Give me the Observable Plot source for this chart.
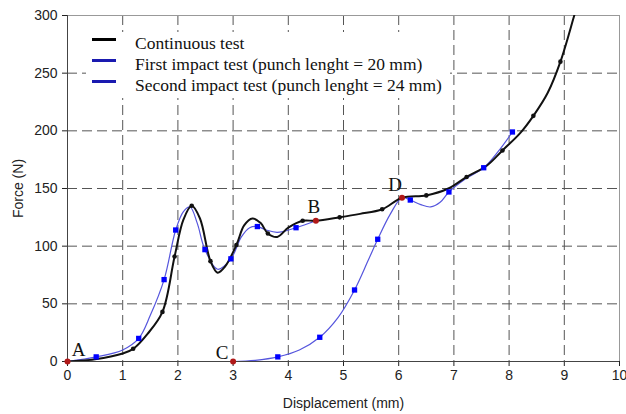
<!DOCTYPE html>
<html>
<head>
<meta charset="utf-8">
<script src="https://cdn.jsdelivr.net/npm/d3@7"></script>
<script src="https://cdn.jsdelivr.net/npm/@observablehq/plot@0.6"></script>
<style>
  html, body { margin: 0; padding: 0; background: #fff; }
  #wrap { position: relative; width: 626px; height: 414px; }
  #legend { position: absolute; left: 86px; top: 32px; background: #fff; padding: 1px 8px 2px 6px;
            font-family: "Liberation Serif", "DejaVu Serif", serif; font-size: 17.5px; color: #111; line-height: 21px; }
  #legend .row { display: flex; align-items: center; white-space: nowrap; }
  #legend .sw { display: inline-block; width: 24px; height: 3px; margin-right: 19px; position: relative; top: -4px; }
</style>
</head>
<body>
<div id="wrap"><div id="chart"></div>
<div id="legend">
  <div class="row"><span class="sw" style="background:#000"></span>Continuous test</div>
  <div class="row"><span class="sw" style="background:#1a1ab0"></span>First impact test (punch lenght = 20 mm)</div>
  <div class="row"><span class="sw" style="background:#1a1ab0"></span>Second impact test (punch lenght = 24 mm)</div>
</div>
</div>
<script>
// Continuous test (curve)
const contX = [0,0.5,1.0,1.19,1.45,1.72,1.94,2.1,2.25,2.4,2.59,2.72,2.85,3.06,3.2,3.35,3.5,3.63,3.8,4.0,4.26,4.5,4.93,5.3,5.7,6.06,6.5,6.9,7.23,7.6,7.88,8.2,8.44,8.7,8.93,9.18,9.3];
const contY = [0,2,7,11,24,43,91,123,135,124,87,77,82,101,118,124,120,111,108,116,122,122,125,128,132,142,144,150,160,170,183,198,213,233,260,300,320];
// Continuous test markers
const contMX = [1.19,1.72,1.94,2.25,2.59,3.06,3.63,4.26,4.93,5.70,6.50,7.23,7.88,8.44,8.93];
const contMY = [11,43,91,135,87,101,111,122,125,132,144,160,183,213,260];
// First impact test (curve)
const firstX = [0,0.52,1.0,1.29,1.5,1.75,1.96,2.1,2.22,2.35,2.49,2.72,2.96,3.15,3.3,3.44,3.6,3.8,4.14,4.5];
const firstY = [0,4,10,20,40,71,114,130,134,120,97,80,89,108,116,117,114,112,116,122];
const firstMX = [0.52,1.29,1.75,1.96,2.49,2.96,3.44,4.14];
const firstMY = [4,20,71,114,97,89,117,116];
// Second impact test (curve)
const secondX = [0,3.0,3.4,3.81,4.2,4.57,4.9,5.2,5.45,5.62,5.85,6.06,6.21,6.4,6.58,6.75,6.91,7.2,7.54,7.8,8.06];
const secondY = [0,0,1,4,10,21,38,62,88,106,128,142,140,136,134,138,147,158,168,182,199];
const secondMX = [3.81,4.57,5.2,5.62,6.21,6.91,7.54,8.06];
const secondMY = [4,21,62,106,140,147,168,199];
// Labelled points
const ptName = ["A","B","C","D"];
const ptX = [0,4.5,3.0,6.06];
const ptY = [0,122,0,142];
// Ticks
const xTicks = [0,1,2,3,4,5,6,7,8,9,10];
const yTicks = [0,50,100,150,200,250,300];

const toRows = (xs, ys) => xs.map((x, i) => ({x, y: ys[i]}));
const cont = toRows(contX, contY), contM = toRows(contMX, contMY);
const first = toRows(firstX, firstY), firstM = toRows(firstMX, firstMY);
const second = toRows(secondX, secondY), secondM = toRows(secondMX, secondMY);
const pts = ptName.map((n, i) => ({n, x: ptX[i], y: ptY[i]}));
const labelOffsets = {A: [11, -12], B: [-2, -14], C: [-11, -9], D: [-7, -13]};

const chart = Plot.plot({
  width: 626, height: 414,
  marginLeft: 67, marginRight: 7, marginTop: 15, marginBottom: 53,
  style: {fontFamily: "'Liberation Sans', Arial, sans-serif", fontSize: "14px", color: "#222", background: "#fff"},
  x: {domain: [0, 10]},
  y: {domain: [0, 300]},
  marks: [
    Plot.gridX(xTicks.slice(1, -1), {stroke: "#555", strokeOpacity: 1, strokeDasharray: "10,5", strokeWidth: 1}),
    Plot.gridY(yTicks.slice(1, -1), {stroke: "#555", strokeOpacity: 1, strokeDasharray: "10,5", strokeWidth: 1}),
    Plot.frame({stroke: "#999"}),
    Plot.axisX(xTicks, {tickSize: 5, tickPadding: 4, label: "Displacement (mm)", labelAnchor: "center", labelOffset: 46, labelArrow: "none", fontSize: 14}),
    Plot.axisY(yTicks, {tickSize: 5, tickPadding: 5, label: "Force (N)", labelAnchor: "center", labelOffset: 54, labelArrow: "none", fontSize: 14}),
    Plot.ruleX([0], {stroke: "#444"}),
    Plot.ruleY([0], {stroke: "#444"}),
    Plot.line(second, {x: "x", y: "y", stroke: "#5555dd", strokeWidth: 1.2, curve: "catmull-rom", clip: true}),
    Plot.line(first, {x: "x", y: "y", stroke: "#5555dd", strokeWidth: 1.2, curve: "catmull-rom", clip: true}),
    Plot.line(cont, {x: "x", y: "y", stroke: "#111", strokeWidth: 2, curve: "catmull-rom", clip: true}),
    Plot.dot(contM, {x: "x", y: "y", fill: "#111", r: 2.3}),
    Plot.dot(firstM, {x: "x", y: "y", fill: "#0000ff", symbol: "square", r: 3}),
    Plot.dot(secondM, {x: "x", y: "y", fill: "#0000ff", symbol: "square", r: 3}),
    Plot.dot(pts, {x: "x", y: "y", fill: "#b01818", r: 3}),
    ...pts.map(p => Plot.text([p], {x: "x", y: "y", text: "n", dx: labelOffsets[p.n][0], dy: labelOffsets[p.n][1],
      fontFamily: "'Liberation Serif', serif", fontSize: 19, fill: "#111"}))
  ]
});
document.getElementById("chart").appendChild(chart);
</script>
</body>
</html>
